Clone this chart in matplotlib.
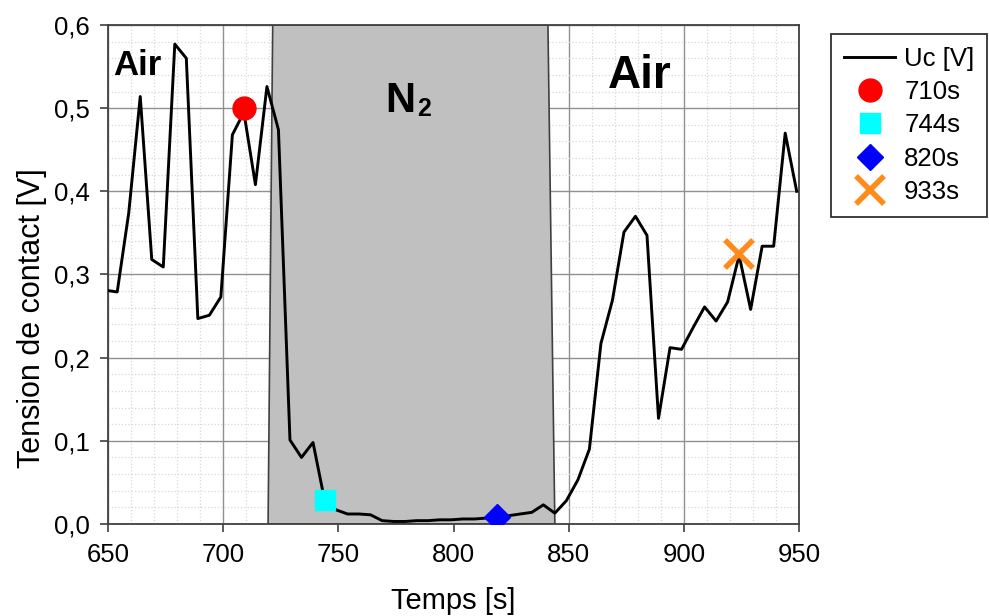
import matplotlib
matplotlib.use("Agg")
import matplotlib.pyplot as plt
from matplotlib.ticker import MultipleLocator, FuncFormatter

plt.rcParams['font.family'] = ['Liberation Sans', 'DejaVu Sans']

# contact voltage Uc [V] vs time [s]
temps = [649, 654, 659, 664, 669, 674, 679, 684, 689, 694, 699, 704, 709, 714,
         719, 724, 729, 734, 739, 744, 749, 754, 759, 764, 769, 774, 779, 784,
         789, 794, 799, 804, 809, 814, 819, 824, 829, 834, 839, 844, 849, 854,
         859, 864, 869, 874, 879, 884, 889, 894, 899, 904, 909, 914, 919, 924,
         929, 934, 939, 944, 949]
uc = [0.281, 0.279, 0.374, 0.514, 0.318, 0.309, 0.577, 0.560, 0.247, 0.251,
      0.273, 0.468, 0.495, 0.408, 0.526, 0.474, 0.101, 0.080, 0.098, 0.029,
      0.017, 0.012, 0.012, 0.011, 0.004, 0.003, 0.003, 0.004, 0.004, 0.005,
      0.005, 0.006, 0.006, 0.007, 0.008, 0.010, 0.012, 0.014, 0.023, 0.013,
      0.028, 0.053, 0.090, 0.217, 0.269, 0.351, 0.370, 0.347, 0.127, 0.212,
      0.210, 0.236, 0.261, 0.244, 0.267, 0.323, 0.258, 0.334, 0.334, 0.470,
      0.400]

# N2 flushing period (shaded area)
n2_t = [719.5, 721.5, 841, 844]
n2_v = [0, 0.6, 0.6, 0]

# highlighted measurements
pt_labels = ['710s', '744s', '820s', '933s']
pt_t = [709, 744, 819, 924]
pt_v = [0.500, 0.029, 0.008, 0.325]

fig = plt.figure(figsize=(9.89, 6.16), dpi=100)
ax = fig.add_axes([0.1092, 0.1494, 0.6987, 0.81])

ax.fill(n2_t, n2_v, facecolor='#c0c0c0', edgecolor='#404040', lw=1.2, zorder=2)
ax.plot(temps, uc, color='black', lw=2.1, label='Uc [V]', zorder=3)

ax.plot(pt_t[0], pt_v[0], 'o', color='#ff0000', ms=16.5, ls='none', label=pt_labels[0], zorder=4)
ax.plot(pt_t[1], pt_v[1], 's', color='#00ffff', ms=15, ls='none', label=pt_labels[1], zorder=4)
ax.plot(pt_t[2], pt_v[2], 'D', color='#0000ff', ms=13.5, ls='none', label=pt_labels[2], zorder=4)
ax.plot(pt_t[3], pt_v[3], 'x', color='#ff8c1a', ms=20, mew=4, ls='none', label=pt_labels[3], zorder=4)

ax.set_xlim(650, 950)
ax.set_ylim(0, 0.6)
ax.xaxis.set_major_locator(MultipleLocator(50))
ax.xaxis.set_minor_locator(MultipleLocator(10))
ax.yaxis.set_major_locator(MultipleLocator(0.1))
ax.yaxis.set_minor_locator(MultipleLocator(0.02))
ax.yaxis.set_major_formatter(FuncFormatter(lambda v, p: f"{v:.1f}".replace('.', ',')))

ax.grid(which='major', color='#909090', lw=1.0, zorder=0)
ax.grid(which='minor', color='#d8d8d8', lw=0.9, ls=':', zorder=0)
ax.set_axisbelow(True)

ax.tick_params(which='major', direction='out', length=6, width=1.2, color='#404040',
               labelsize=18.5)
ax.tick_params(axis='x', pad=8)
ax.tick_params(axis='y', pad=7)
ax.tick_params(which='minor', length=0)
for s in ax.spines.values():
    s.set_color('#404040')
    s.set_linewidth(1.3)

ax.set_xlabel('Temps [s]', fontsize=21)
ax.set_ylabel('Tension de contact [V]', fontsize=22)
ax.xaxis.set_label_coords(0.5, -0.126)
ax.yaxis.set_label_coords(-0.088, 0.413)

ax.text(662.5, 0.540, 'Air', fontsize=25, fontweight='bold', ha='center', va='baseline', zorder=5)
ax.text(881, 0.524, 'Air', fontsize=33, fontweight='bold', ha='center', va='baseline', zorder=5)
n_txt = ax.text(770.5, 0.495, 'N', fontsize=30, fontweight='bold', ha='left', va='baseline', zorder=5)
ax.annotate('2', xy=(1, 0), xycoords=n_txt, xytext=(1, 0), textcoords='offset points',
            fontsize=18, fontweight='bold', ha='left', va='bottom', zorder=5)

leg = ax.legend(loc='upper left', bbox_to_anchor=(831 / 989, 1 - 34 / 616),
                bbox_transform=fig.transFigure, borderaxespad=0, fontsize=18.5,
                frameon=True, fancybox=False, edgecolor='#303030', framealpha=1,
                handlelength=2.0, handletextpad=0.35, labelspacing=0.36,
                borderpad=0.5, markerscale=1.0)
leg.get_frame().set_linewidth(1.3)

fig.savefig('out.png', dpi=100)
